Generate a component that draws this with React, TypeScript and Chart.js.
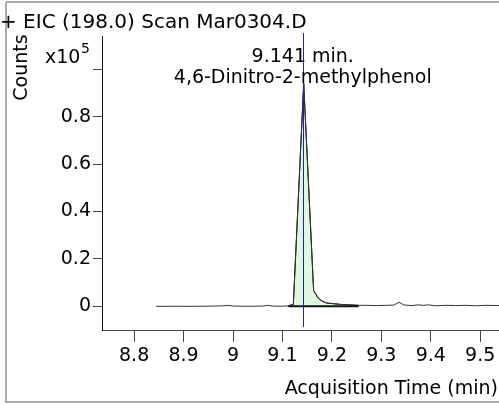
import React, { useEffect, useRef } from "react";
import { Chart, registerables } from "chart.js";

Chart.register(...registerables);

// Acquisition time (min)
const timeMin = [
  8.844, 8.87, 8.9, 8.93, 8.96, 8.98, 8.99, 9.0, 9.03, 9.06, 9.07, 9.08, 9.1,
  9.112, 9.122, 9.143, 9.163, 9.172, 9.18, 9.189, 9.203, 9.217, 9.235, 9.254,
  9.27, 9.29, 9.31, 9.325, 9.336, 9.345, 9.36, 9.375, 9.385, 9.395, 9.41,
  9.43, 9.45, 9.47, 9.49, 9.51, 9.538,
];
// Counts (x10^5)
const countsE5 = [
  0, 0, 0, 0, 0.001, 0.002, 0.004, 0.001, 0, 0.001, 0.004, 0.001, 0,
  0.002, 0.008, 0.94, 0.067, 0.035, 0.022, 0.014, 0.011, 0.008, 0.006, 0.004,
  0.004, 0.003, 0.004, 0.005, 0.017, 0.006, 0.003, 0.006, 0.004, 0.006, 0.002,
  0.004, 0.003, 0.004, 0.002, 0.004, 0.003,
];
const xTicks = [8.8, 8.9, 9.0, 9.1, 9.2, 9.3, 9.4, 9.5];
const yTicks = [0, 0.2, 0.4, 0.6, 0.8, 1.0];
const peakStart = 9.112;
const peakEnd = 9.254;
const peakRT = 9.141;
const peakRTLabel = "9.141 min.";
const compoundName = "4,6-Dinitro-2-methylphenol";
const titleText = "+ EIC (198.0) Scan Mar0304.D";
const xTitle = "Acquisition Time (min)";
const yTitle = "Counts";

const FONT = "DejaVu Sans";

export default function App() {
  const ref = useRef<HTMLCanvasElement | null>(null);
  useEffect(() => {
    const canvas = ref.current;
    if (!canvas) return;
    const trace = timeMin.map((t, i) => ({ x: t, y: countsE5[i] }));
    const peak = trace.filter((p) => p.x >= peakStart && p.x <= peakEnd);
    const baseline = [
      { x: peakStart, y: 0 },
      { x: peakEnd, y: 0 },
    ];

    const annot = {
      id: "annot",
      beforeDraw(chart: any) {
        const ctx = chart.ctx;
        ctx.save();
        ctx.fillStyle = "#fff";
        ctx.fillRect(0, 0, chart.width, chart.height);
        ctx.strokeStyle = "#aaaaaa";
        ctx.lineWidth = 2;
        ctx.beginPath();
        ctx.moveTo(6, 2);
        ctx.lineTo(chart.width, 2);
        ctx.moveTo(6, 2);
        ctx.lineTo(6, 402);
        ctx.lineTo(chart.width, 402);
        ctx.stroke();
        ctx.restore();
      },
      afterDatasetsDraw(chart: any) {
        const ctx = chart.ctx;
        const xs = chart.scales.x;
        const ca = chart.chartArea;
        const px = Math.round(xs.getPixelForValue(peakRT)) + 0.5;
        ctx.save();
        ctx.strokeStyle = "#2020b8";
        ctx.lineWidth = 1;
        ctx.beginPath();
        ctx.moveTo(px, ca.top - 3);
        ctx.lineTo(px, ca.bottom - 3);
        ctx.stroke();
        ctx.restore();
      },
      afterDraw(chart: any) {
        const ctx = chart.ctx;
        const xs = chart.scales.x;
        const px = xs.getPixelForValue(peakRT);
        ctx.save();
        ctx.fillStyle = "#000";
        ctx.textBaseline = "alphabetic";
        ctx.font = `20px "${FONT}"`;
        ctx.textAlign = "left";
        ctx.fillText(titleText, 0, 28);
        ctx.font = `19px "${FONT}"`;
        ctx.textAlign = "center";
        ctx.fillText(peakRTLabel, px, 62);
        ctx.fillText(compoundName, px, 83);
        ctx.textAlign = "right";
        ctx.fillText(xTitle, 498, 394);
        ctx.textAlign = "left";
        ctx.fillText("x10", 45, 63);
        ctx.font = `14px "${FONT}"`;
        ctx.fillText("5", 81, 53);
        ctx.font = `19px "${FONT}"`;
        ctx.translate(22, 67.5);
        ctx.rotate(-Math.PI / 2);
        ctx.textAlign = "center";
        ctx.textBaseline = "middle";
        ctx.fillText(yTitle, 0, 0);
        ctx.restore();
      },
    };

    const chart = new Chart(canvas, {
      type: "line",
      data: {
        datasets: [
          {
            data: baseline,
            borderColor: "#111",
            borderWidth: 2,
            pointRadius: 0,
            fill: false,
            order: 0,
          },
          {
            data: trace,
            borderColor: "#333",
            borderWidth: 1,
            pointRadius: 0,
            fill: false,
            order: 1,
          },
          {
            data: peak,
            borderColor: "#000",
            borderWidth: 1,
            backgroundColor: "rgb(224,248,224)",
            pointRadius: 0,
            fill: "origin",
            order: 2,
          },
        ],
      },
      options: {
        responsive: false,
        animation: false,
        devicePixelRatio: 1,
        layout: { padding: { top: 36, left: 0, right: 0, bottom: 0 } },
        plugins: {
          legend: { display: false },
          tooltip: { enabled: false },
          title: { display: false },
        },
        elements: { line: { tension: 0 } },
        scales: {
          x: {
            type: "linear",
            min: 8.735,
            max: 9.538,
            afterBuildTicks: (axis: any) => {
              axis.ticks = xTicks.map((value) => ({ value }));
            },
            afterFit: (s: any) => {
              s.height = 75;
            },
            border: { display: true, color: "#444", width: 1 },
            grid: {
              drawOnChartArea: false,
              drawTicks: true,
              tickLength: 12,
              tickColor: "#444",
              color: "#444",
            },
            ticks: {
              color: "#000",
              font: { family: FONT, size: 19 },
              padding: 3,
              maxRotation: 0,
              autoSkip: false,
              callback: (v: any) => String(v),
            },
          },
          y: {
            type: "linear",
            min: -0.1,
            max: 1.14,
            afterBuildTicks: (axis: any) => {
              axis.ticks = yTicks.map((value) => ({ value }));
            },
            afterFit: (s: any) => {
              s.width = 102;
            },
            border: { display: true, color: "#111", width: 1 },
            grid: {
              drawOnChartArea: false,
              drawTicks: true,
              tickLength: 9,
              tickColor: "#444",
              color: "#444",
            },
            ticks: {
              color: "#000",
              font: { family: FONT, size: 19 },
              padding: 2,
              autoSkip: false,
              callback: (v: any) =>
                v === 1 ? "" : v === 0 ? "0" : Number(v).toFixed(1),
            },
          },
        },
      },
      plugins: [annot],
    });
    return () => chart.destroy();
  }, []);

  return (
    <div style={{ position: "absolute", left: 0, top: 0, width: 499, height: 405 }}>
      <canvas ref={ref} width={499} height={405} style={{ display: "block" }} />
    </div>
  );
}
